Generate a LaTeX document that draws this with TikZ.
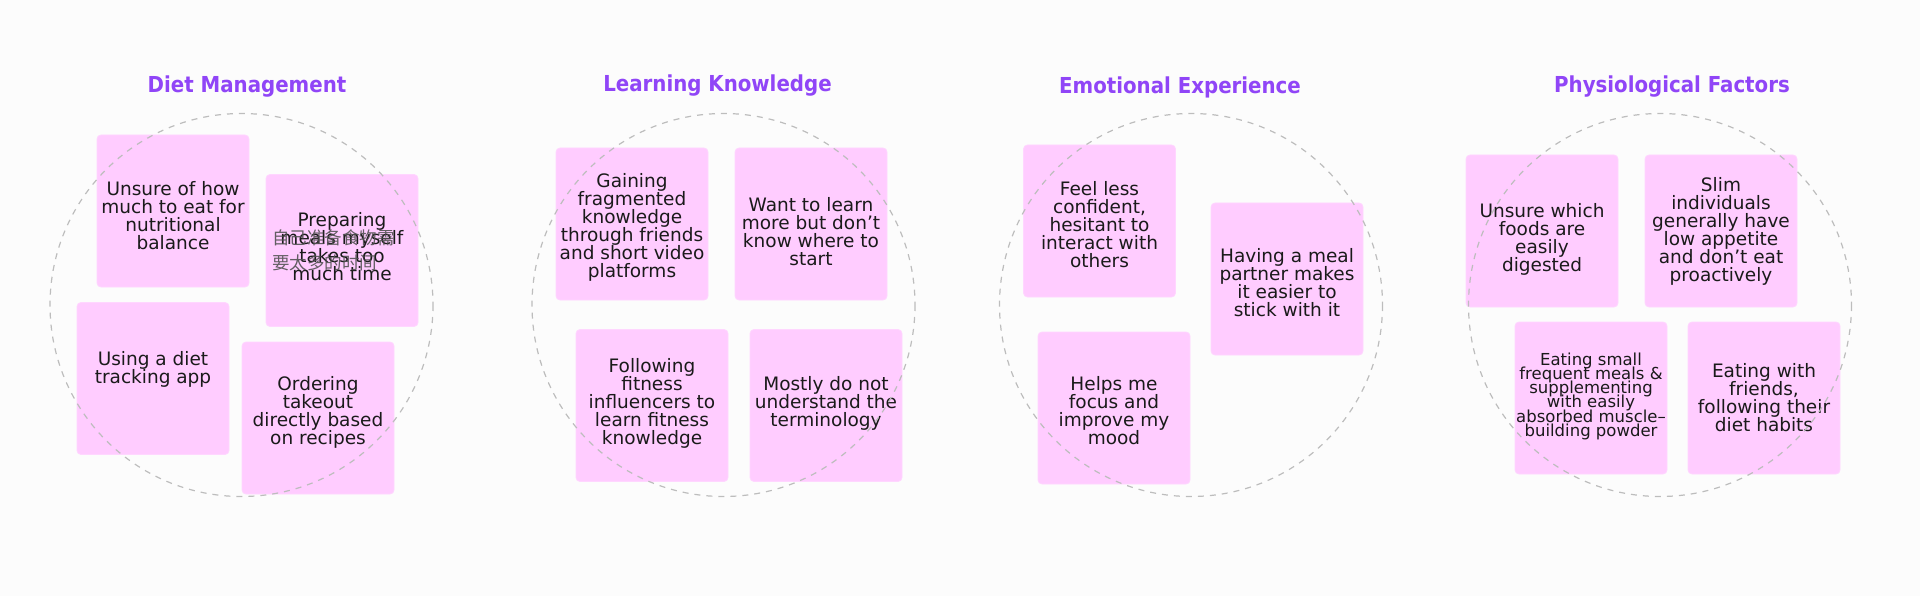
\documentclass[tikz,border=0pt]{standalone}
\usepackage{fontspec}
\setmainfont{DejaVu Sans}
\newfontfamily\titlefont{DejaVu Sans Condensed}
\newfontfamily\cjkfont{Noto Sans CJK SC}
\definecolor{bgcol}{HTML}{FCFCFC}
\definecolor{pinkbox}{HTML}{FFCCFF}
\definecolor{pinkedge}{HTML}{FFD6FF}
\definecolor{titlecol}{HTML}{9045F7}
\definecolor{circcol}{HTML}{BDBDBD}
\definecolor{txtcol}{HTML}{1A1A1A}
% note text: #1 = downward shift of the text block (pt), #2 = lines
\newcommand\notetxt[2]{\raisebox{-#1pt}[\height][\depth]{\makebox[150pt][c]{\parbox[c]{170pt}{\lineskiplimit=-50pt\relax\centering #2}}}}
\begin{document}
\begin{tikzpicture}[x=1pt,y=-1pt,
  postit/.style={rectangle, rounded corners=4pt, fill=pinkbox, draw=pinkedge, line width=0.8pt,
    minimum width=152pt, minimum height=152pt, inner sep=0pt,
    text=txtcol, font=\fontsize{18.5}{18}\selectfont},
  smallpostit/.style={postit, font=\fontsize{16.5}{14.1}\selectfont},
  group/.style={draw=circcol, line width=1.2pt, dash pattern=on 6pt off 6pt},
  grouptitle/.style={text=titlecol, font=\titlefont\bfseries\fontsize{22}{24}\selectfont, inner sep=0pt}]
\useasboundingbox (0,0) rectangle (1920,596);
\fill[bgcol] (0,0) rectangle (1920,596);

% Titles
\node[grouptitle] (t1) at (247,87) {Diet Management};
\node[grouptitle] (t2) at (717.5,86) {Learning Knowledge};
\node[grouptitle] (t3) at (1180,87) {Emotional Experience};
\node[grouptitle] (t4) at (1672,87) {Physiological Factors};

% Diet Management
\node[postit] (d1) at (173,211) {\notetxt{4.5}{Unsure of how\\much to eat for\\nutritional\\balance}};
\node[postit] (d2) at (342,250.5) {\notetxt{-3.5}{Preparing\\meals myself\\takes too\\much time}};
\node[anchor=west, inner sep=0pt, align=left, text=black!68, opacity=0.9,
  font=\cjkfont\fontsize{17.5}{25}\selectfont] (d2cn) at (272,250.5) {自己准备食物需\\要太多的时间};
\node[postit] (d3) at (153,378.5) {\notetxt{-9.5}{Using a diet\\tracking app}};
\node[postit] (d4) at (318,418) {\notetxt{-5.5}{Ordering\\takeout\\directly based\\on recipes}};

% Learning Knowledge
\node[postit] (l1) at (632,224) {\notetxt{3.5}{Gaining\\fragmented\\knowledge\\through friends\\and short video\\platforms}};
\node[postit] (l2) at (811,224) {\notetxt{7.3}{Want to learn\\more but don’t\\know where to\\start}};
\node[postit] (l3) at (652,405.5) {\notetxt{-2.3}{Following\\fitness\\influencers to\\learn fitness\\knowledge}};
\node[postit] (l4) at (826,405.5) {\notetxt{-1.8}{Mostly do not\\understand the\\terminology}};

% Emotional Experience
\node[postit] (e1) at (1099.5,221) {\notetxt{3.2}{Feel less\\confident,\\hesitant to\\interact with\\others}};
\node[postit] (e2) at (1287,279) {\notetxt{3.3}{Having a meal\\partner makes\\it easier to\\stick with it}};
\node[postit] (e3) at (1114,408) {\notetxt{2.5}{Helps me\\focus and\\improve my\\mood}};

% Physiological Factors
\node[postit] (p1) at (1542,231) {\notetxt{8.5}{Unsure which\\foods are\\easily\\digested}};
\node[postit] (p2) at (1721,231) {\notetxt{0.7}{Slim\\individuals\\generally have\\low appetite\\and don’t eat\\proactively}};
\node[smallpostit] (p3) at (1591,398) {\notetxt{-1.7}{Eating small\\frequent meals \&\\supplementing\\with easily\\absorbed muscle–\\building powder}};
\node[postit] (p4) at (1764,398) {\notetxt{-0.7}{Eating with\\friends,\\following their\\diet habits}};

% Dashed group circles (drawn over the notes)
\draw[group] (241.5,305) circle[radius=191.5];
\draw[group] (723.5,305) circle[radius=191.5];
\draw[group] (1191,305) circle[radius=191.5];
\draw[group] (1660,305) circle[radius=191.5];
\end{tikzpicture}
\end{document}
